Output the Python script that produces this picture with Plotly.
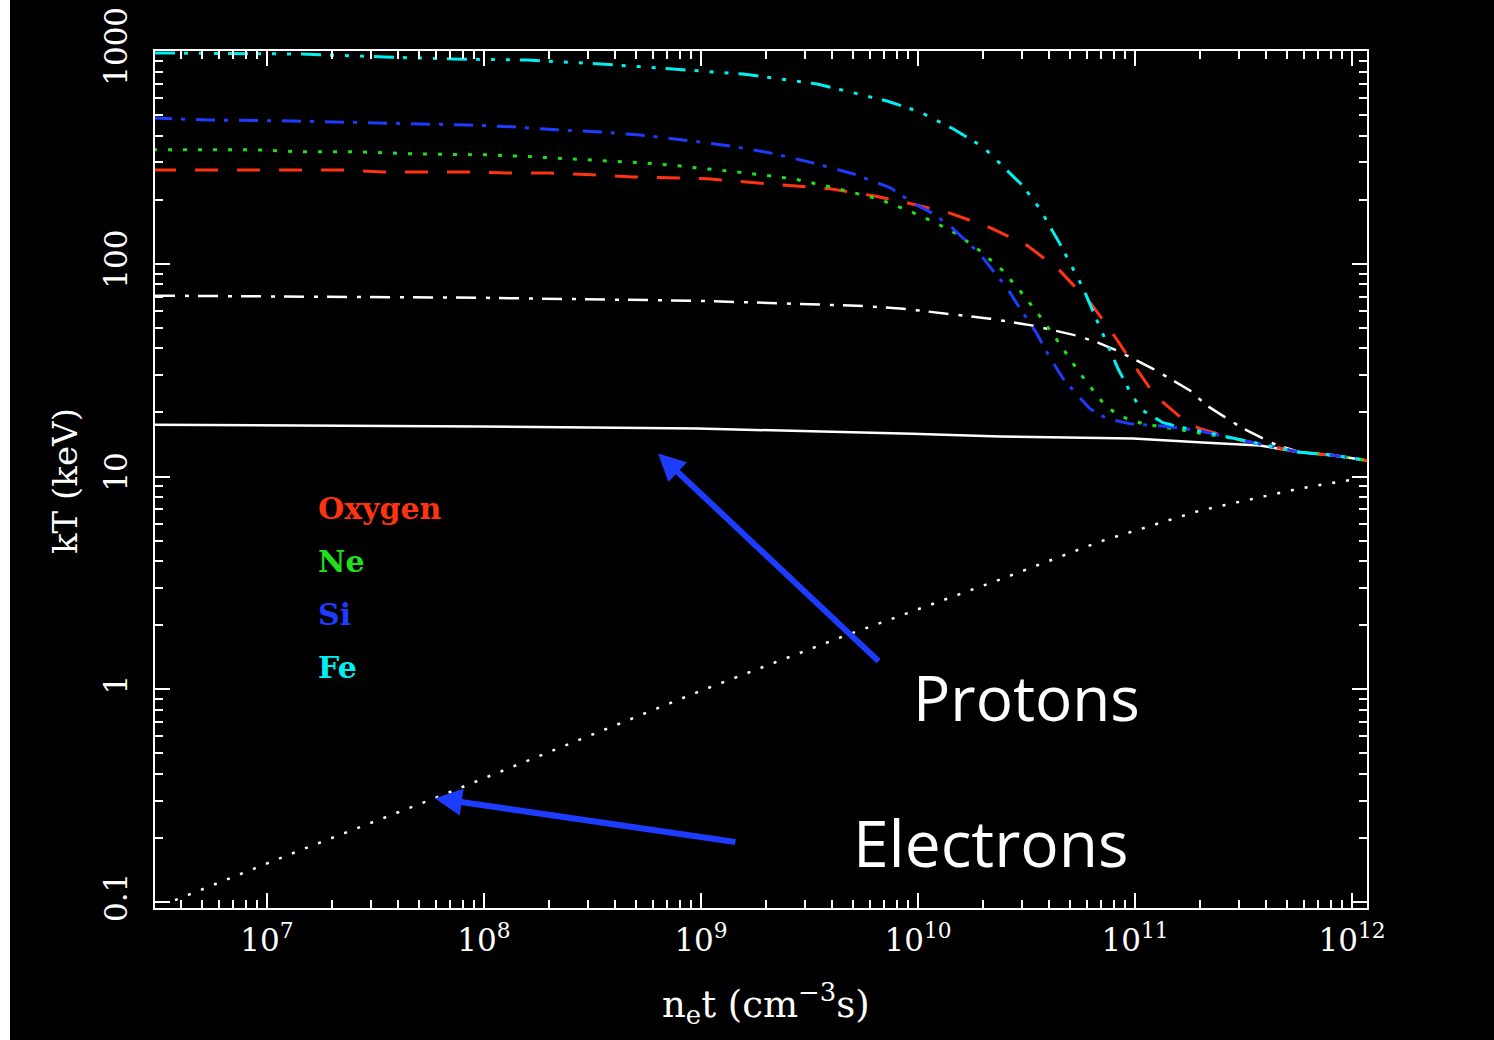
import numpy as np
import plotly.graph_objects as go

# ---------------- data (x given as log10 of n_e t) ----------------
protons_lognet = [6.484, 7.982, 8.982, 9.972, 10.378, 10.991, 11.332, 11.576, 11.760, 11.912, 12.069]
protons_kT = [17.5, 17.2, 16.8, 15.9, 15.4, 15.1, 14.4, 14.0, 13.0, 12.6, 11.9]

electrons_lognet = [6.576, 7.152, 7.774, 8.535, 8.995, 9.641, 10.378, 10.839, 11.300, 11.760, 12.037]
electrons_kT = [0.102, 0.175, 0.308, 0.635, 0.98, 1.75, 3.28, 4.95, 6.92, 8.79, 9.8]

helium_lognet = [6.484, 7.982, 8.982, 9.456, 9.719, 9.931, 10.134, 10.332, 10.530, 10.733, 10.829,
                 10.917, 11.083, 11.253, 11.332, 11.406, 11.498, 11.590, 11.636, 11.760, 11.912, 12.069]
helium_kT = [70.8, 69.2, 67.0, 64.9, 63.5, 61.5, 58.2, 55.2, 51.2, 45.9, 42.6,
             39.1, 32.1, 25.4, 21.5, 19.3, 16.8, 15.1, 14.3, 13.0, 12.6, 11.9]

oxygen_lognet = [6.475, 7.152, 7.350, 7.535, 7.922, 8.111, 8.304, 8.498, 8.687, 9.028, 9.396, 9.594,
                 9.802, 9.954, 10.147, 10.332, 10.502, 10.645, 10.797, 10.889, 10.991, 11.092, 11.240,
                 11.300, 11.452, 11.608, 11.760, 11.912, 12.069]
oxygen_kT = [276, 276, 276, 270, 270, 267, 267, 262, 256, 251, 235, 225,
             208, 193, 173, 148, 122, 94.8, 64.9, 48.4, 33.9, 24.0, 17.9,
             16.8, 15.1, 14.0, 13.0, 12.6, 11.9]

neon_lognet = [6.475, 6.751, 6.954, 7.152, 7.415, 7.691, 8.028, 8.226, 8.488, 8.733, 8.843, 9.166,
               9.424, 9.608, 9.816, 9.949, 10.069, 10.180, 10.286, 10.387, 10.470, 10.553, 10.627,
               10.664, 10.700, 10.737, 10.779, 10.816, 10.853, 10.908, 10.963, 11.037, 11.175,
               11.300, 11.452, 11.608, 11.760, 11.912, 12.069]
neon_kT = [343, 343, 343, 336, 336, 328, 325, 318, 308, 298, 292, 270,
           251, 228, 202, 179, 158, 138, 115, 93.7, 74.7, 58.2, 45.9,
           40.4, 35.8, 31.5, 27.6, 24.8, 22.2, 19.9, 18.7, 17.7, 16.8,
           16.1, 15.1, 14.0, 13.0, 12.6, 11.9]

silicon_lognet = [6.475, 6.724, 7.120, 7.323, 7.719, 7.922, 8.134, 8.336, 8.521, 8.719, 8.917, 9.134,
                  9.318, 9.516, 9.700, 9.871, 9.977, 10.065, 10.147, 10.207, 10.286, 10.346, 10.410,
                  10.456, 10.548, 10.608, 10.668, 10.724, 10.793, 10.871, 10.977, 11.147, 11.300,
                  11.452, 11.608, 11.760, 11.912, 12.069]
silicon_kT = [484, 474, 469, 464, 454, 449, 440, 426, 417, 403, 382, 358,
              332, 298, 265, 228, 193, 173, 151, 132, 111, 92.7, 77.1,
              64.9, 46.9, 36.2, 28.9, 24.8, 20.8, 18.7, 17.7, 17.2, 16.4,
              15.1, 14.0, 13.0, 12.6, 11.9]

iron_lognet = [6.484, 7.152, 7.544, 7.857, 8.198, 8.535, 8.871, 9.194, 9.535, 9.857, 10.009, 10.161,
               10.300, 10.424, 10.484, 10.562, 10.654, 10.714, 10.760, 10.825, 10.871, 10.922, 10.986,
               11.037, 11.129, 11.240, 11.332, 11.452, 11.608, 11.760, 11.912, 12.069]
iron_kT = [979, 968, 937, 917, 907, 869, 823, 779, 700, 582, 517, 431,
           354, 267, 232, 181, 124, 94.8, 77.1, 54.0, 42.1, 32.1, 24.0,
           20.4, 17.9, 16.8, 16.1, 15.1, 14.0, 13.0, 12.6, 11.9]

x_tick_vals = [1e7, 1e8, 1e9, 1e10, 1e11, 1e12]
x_tick_text = ["10<sup>7</sup>", "10<sup>8</sup>", "10<sup>9</sup>", "10<sup>10</sup>",
               "10<sup>11</sup>", "10<sup>12</sup>"]
y_tick_vals = [0.1, 1, 10, 100, 1000]
y_tick_text = ["0.1", "1", "10", "100", "1000"]

legend_labels = ["Oxygen", "Ne", "Si", "Fe"]

RED = "#ff3311"
GREEN = "#1ee01e"
BLUE = "#1e3cff"
CYAN = "#00f0f0"
WHITE = "#ffffff"

# ---------------- layout geometry ----------------
W, H = 1494, 1040
L, R, T, B = 155, 127, 51, 132
PW, PH = W - L - R, H - T - B


def px(xp):
    return (xp - L) / PW


def py(yp):
    return (H - B - yp) / PH


fig = go.Figure()


def add_line(lognet, kT, color, dash, width=3):
    fig.add_trace(go.Scatter(
        x=10 ** np.array(lognet), y=kT, mode="lines",
        line=dict(color=color, width=width, dash=dash),
        showlegend=False, hoverinfo="skip"))


add_line(protons_lognet, protons_kT, WHITE, "solid", 2.5)
add_line(electrons_lognet, electrons_kT, WHITE, "3px,11px", 2.5)
add_line(helium_lognet, helium_kT, WHITE, "20px,10px,4px,9px", 2.5)
add_line(oxygen_lognet, oxygen_kT, RED, "23px,19px")
add_line(neon_lognet, neon_kT, GREEN, "4px,11px")
add_line(silicon_lognet, silicon_kT, BLUE, "19px,9px,4px,11px")
add_line(iron_lognet, iron_kT, CYAN, "20px,9px,4px,11px,4px,11px,4px,10px")

minor_x = [k * 10 ** n for n in range(6, 12) for k in range(2, 10)]
minor_y = [k * 10 ** n for n in range(-1, 3) for k in range(2, 10)]

axis_common = dict(
    showline=True, linecolor="white", linewidth=2, mirror="ticks",
    ticks="inside", ticklen=15, tickwidth=2, tickcolor="white",
    showgrid=False, zeroline=False,
    tickfont=dict(family="DejaVu Serif", size=31, color="white"),
)

fig.update_xaxes(
    type="log", range=[6.484, 12.069],
    tickmode="array", tickvals=x_tick_vals, ticktext=x_tick_text,
    ticklabelstandoff=4,
    minor=dict(ticks="inside", ticklen=8, tickwidth=2, tickcolor="white",
               tickmode="array", tickvals=minor_x, showgrid=False),
    **axis_common)
fig.update_yaxes(
    type="log", range=[-1.028, 3.0],
    tickmode="array", tickvals=y_tick_vals, ticktext=y_tick_text,
    tickangle=-90, ticklabelstandoff=14,
    minor=dict(ticks="inside", ticklen=8, tickwidth=2, tickcolor="white",
               tickmode="array", tickvals=minor_y, showgrid=False),
    **axis_common)

annotations = []
# legend-like labels
legend_colors = [RED, GREEN, BLUE, CYAN]
legend_y = [508, 561, 614, 667]
for lab, col, yy in zip(legend_labels, legend_colors, legend_y):
    annotations.append(dict(
        text="<b>" + lab + "</b>", xref="paper", yref="paper", x=px(316), y=py(yy),
        xanchor="left", yanchor="middle", showarrow=False,
        font=dict(family="DejaVu Serif", size=30, color=col)))

# axis titles
annotations.append(dict(
    text="kT (keV)", xref="paper", yref="paper", x=px(65), y=py(481),
    textangle=-90, showarrow=False, xanchor="center", yanchor="middle",
    font=dict(family="DejaVu Serif", size=34, color="white")))
annotations.append(dict(
    text="n<sub>e</sub>t (cm<sup>\u22123</sup>s)", xref="paper", yref="paper",
    x=px(766), y=py(1003), showarrow=False, xanchor="center", yanchor="middle",
    font=dict(family="DejaVu Serif", size=37, color="white")))

# big labels
annotations.append(dict(
    text="Protons", xref="paper", yref="paper", x=px(1026), y=py(697),
    showarrow=False, xanchor="center", yanchor="middle",
    font=dict(family="Open Sans", size=62, color="white")))
annotations.append(dict(
    text="Electrons", xref="paper", yref="paper", x=px(991), y=py(842),
    showarrow=False, xanchor="center", yanchor="middle",
    font=dict(family="Open Sans", size=64, color="white")))

# arrows (tip in data coords as log10 values, tail as pixel offset)
annotations.append(dict(
    x=8.802, y=1.108, xref="x", yref="y", ax=222, ay=209, axref="pixel", ayref="pixel",
    showarrow=True, arrowhead=2, arrowsize=0.9, arrowwidth=6, arrowcolor=BLUE, text=""))
annotations.append(dict(
    x=7.774, y=-0.512, xref="x", yref="y", ax=302, ay=44,
    showarrow=True, arrowhead=2, arrowsize=0.9, arrowwidth=6, arrowcolor=BLUE, text=""))

fig.update_layout(
    width=W, height=H,
    margin=dict(l=L, r=R, t=T, b=B, autoexpand=False),
    paper_bgcolor="black", plot_bgcolor="black",
    annotations=annotations,
    shapes=[dict(type="rect", xref="paper", yref="paper",
                 x0=-L / PW, x1=-(L - 10) / PW, y0=-B / PH, y1=1 + T / PH,
                 fillcolor="white", line=dict(width=0), layer="above")],
)

fig.write_html("out.html")
